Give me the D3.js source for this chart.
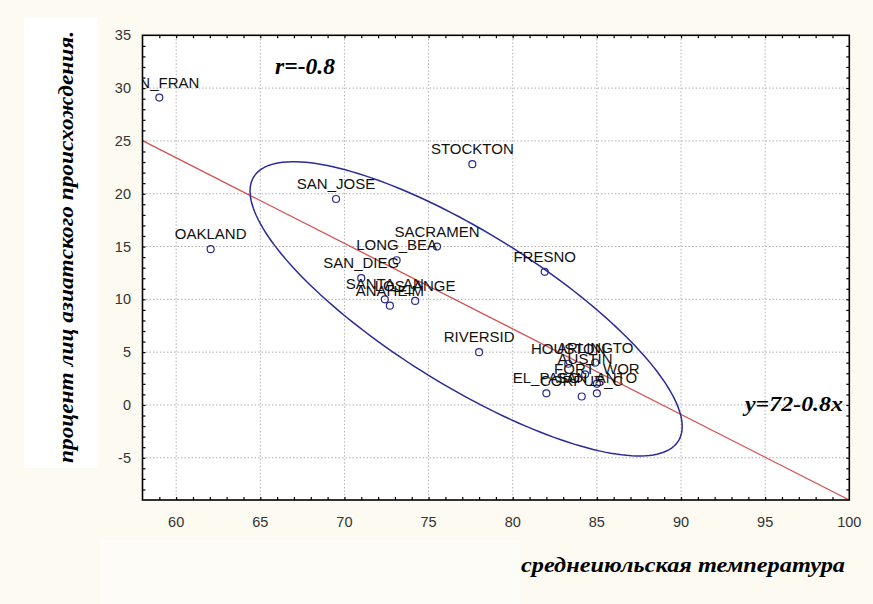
<!DOCTYPE html>
<html><head><meta charset="utf-8">
<script src="https://cdn.jsdelivr.net/npm/d3@7"></script>
<style>html,body{margin:0;padding:0;background:#fcfaf1;}svg{display:block;}</style>
</head><body>
<script>
// ---- data ----
const cities = ["SAN_FRAN","OAKLAND","SAN_JOSE","STOCKTON","SACRAMEN","LONG_BEA","SAN_DIEG","SANTA_AN","ANAHEIM","LOS_ANGE","FRESNO","RIVERSID","HOUSTON","ARLINGTO","AUSTIN","FORT_WOR","EL_PASO","CORPUS_C","SAN_ANTO"];
const julyTemp = [59.0, 62.05, 69.5, 77.6, 75.5, 73.1, 71.0, 72.4, 72.7, 74.2, 81.9, 78.0, 83.3, 84.9, 84.3, 85.0, 82.0, 84.1, 85.0];
const asianPct = [29.1, 14.75, 19.5, 22.8, 15.0, 13.7, 12.0, 10.0, 9.4, 9.85, 12.6, 5.0, 3.9, 4.0, 2.9, 2.0, 1.1, 0.8, 1.1];
const xTicks = [60,65,70,75,80,85,90,95,100];
const yTicks = [-5,0,5,10,15,20,25,30,35];
const xDomain = [58, 100];
const yDomain = [-9, 35];
const regIntercept = 72.0, regSlope = -0.81;
const ellipseCenter = [77.23, 9.1];
const ellipseHalf = [12.84, 13.93];
const ellipseR = -0.8;
const rText = "r=-0.8";
const eqText = "y=72-0.8x";
const xTitle = "среднеиюльская температура";
const yTitle = "процент лиц азиатского происхождения.";

const W = 873, H = 604;
const L = 142.5, R = 849.3, T = 35.3, B = 500;
const svg = d3.select("body").append("svg").attr("width", W).attr("height", H);

svg.append("rect").attr("width", W).attr("height", H).attr("fill", "#fcfaf1");
svg.append("rect").attr("x", 24).attr("y", 18).attr("width", 74).attr("height", 450).attr("fill", "#ffffff");
svg.append("rect").attr("x", 100).attr("y", 540).attr("width", 420).attr("height", 64).attr("fill", "#fdfcf7");

const x = d3.scaleLinear().domain(xDomain).range([L, R]);
const y = d3.scaleLinear().domain(yDomain).range([B, T]);

svg.append("rect").attr("x", L).attr("y", T).attr("width", R - L).attr("height", B - T).attr("fill", "#ffffff");

svg.append("defs").append("clipPath").attr("id", "clip")
  .append("rect").attr("x", L).attr("y", T).attr("width", R - L).attr("height", B - T);

// grid
const grid = svg.append("g");
grid.selectAll(".gx").data(xTicks.filter(v => v > xDomain[0] && v < xDomain[1])).enter().append("line")
  .attr("x1", d => x(d)).attr("x2", d => x(d)).attr("y1", T).attr("y2", B)
  .attr("stroke", "#b0b0b0").attr("stroke-width", 1).attr("stroke-dasharray", "1.5,2");
grid.selectAll(".gy").data(yTicks.filter(v => v > yDomain[0] && v < yDomain[1])).enter().append("line")
  .attr("y1", d => y(d)).attr("y2", d => y(d)).attr("x1", L).attr("x2", R)
  .attr("stroke", "#b0b0b0").attr("stroke-width", 1).attr("stroke-dasharray", "1.5,2");

// axes with inward minor ticks
const minorX = d3.range(59, 100, 1);
const minorY = d3.range(-8, 35, 1);
const axB = d3.axisBottom(x).tickValues(minorX).tickSize(-3).tickFormat("");
const axT = d3.axisTop(x).tickValues(minorX).tickSize(-3).tickFormat("");
const axL = d3.axisLeft(y).tickValues(minorY).tickSize(-3).tickFormat("");
const axR = d3.axisRight(y).tickValues(minorY).tickSize(-3).tickFormat("");
function styleAx(g){ g.select(".domain").remove(); g.selectAll("line").attr("stroke","#000").attr("stroke-width",1.2); }
svg.append("g").attr("transform", `translate(0,${B})`).call(axB).call(styleAx);
svg.append("g").attr("transform", `translate(0,${T})`).call(axT).call(styleAx);
svg.append("g").attr("transform", `translate(${L},0)`).call(axL).call(styleAx);
svg.append("g").attr("transform", `translate(${R},0)`).call(axR).call(styleAx);

// tick labels
const tl = svg.append("g").attr("font-family", "Liberation Sans, Arial, sans-serif").attr("font-size", 14.5).attr("fill", "#333");
tl.selectAll(".xl").data(xTicks).enter().append("text")
  .attr("x", d => x(d)).attr("y", 527).attr("text-anchor", "middle").text(d => d);
tl.selectAll(".yl").data(yTicks).enter().append("text")
  .attr("x", 131).attr("y", d => y(d) + 5).attr("text-anchor", "end").text(d => d);

const plot = svg.append("g").attr("clip-path", "url(#clip)");

// regression line
plot.append("line")
  .attr("x1", x(xDomain[0])).attr("y1", y(regIntercept + regSlope * xDomain[0]))
  .attr("x2", x(xDomain[1])).attr("y2", y(regIntercept + regSlope * xDomain[1]))
  .attr("stroke", "#d4504f").attr("stroke-width", 1.3);

// ellipse
const th = Math.acos(ellipseR);
const ePts = d3.range(0, 361, 2).map(a => {
  const t = a * Math.PI / 180;
  return [ellipseCenter[0] + ellipseHalf[0] * Math.cos(t), ellipseCenter[1] + ellipseHalf[1] * Math.cos(t - th)];
});
plot.append("path").attr("d", d3.line().x(d => x(d[0])).y(d => y(d[1]))(ePts))
  .attr("fill", "none").attr("stroke", "#2a2a9c").attr("stroke-width", 1.5);

// points
const data = cities.map((c, i) => ({c, tx: julyTemp[i], ap: asianPct[i]}));
plot.selectAll(".pt").data(data).enter().append("circle")
  .attr("cx", d => x(d.tx)).attr("cy", d => y(d.ap)).attr("r", 3.5)
  .attr("fill", "none").attr("stroke", "#2b2b8c").attr("stroke-width", 1.2);
plot.selectAll(".lb").data(data).enter().append("text")
  .attr("x", d => x(d.tx)).attr("y", d => y(d.ap) - 10).attr("text-anchor", "middle")
  .attr("font-family", "Liberation Sans, Arial, sans-serif").attr("font-size", 15).attr("fill", "#111")
  .text(d => d.c);

// frame
svg.append("rect").attr("x", L).attr("y", T).attr("width", R - L).attr("height", B - T)
  .attr("fill", "none").attr("stroke", "#000").attr("stroke-width", 1.6);

// annotations
const serif = "Liberation Serif, Times New Roman, serif";
svg.append("text").attr("x", 275).attr("y", 74).attr("font-family", serif).attr("font-style", "italic")
  .attr("font-weight", "bold").attr("font-size", 23).attr("textLength", 60).attr("lengthAdjust", "spacingAndGlyphs").text(rText);
svg.append("text").attr("x", 745).attr("y", 411).attr("font-family", serif).attr("font-style", "italic")
  .attr("font-weight", "bold").attr("font-size", 22).attr("textLength", 98).attr("lengthAdjust", "spacingAndGlyphs").text(eqText);
svg.append("text").attr("x", 521).attr("y", 572).attr("font-family", serif).attr("font-style", "italic")
  .attr("font-weight", "bold").attr("font-size", 22).attr("textLength", 324).attr("lengthAdjust", "spacingAndGlyphs").text(xTitle);
svg.append("text").attr("transform", "translate(73,247) rotate(-90)").attr("text-anchor", "middle")
  .attr("font-family", serif).attr("font-style", "italic").attr("font-weight", "bold").attr("font-size", 22)
  .attr("textLength", 432).attr("lengthAdjust", "spacingAndGlyphs").text(yTitle);
</script>
</body></html>
